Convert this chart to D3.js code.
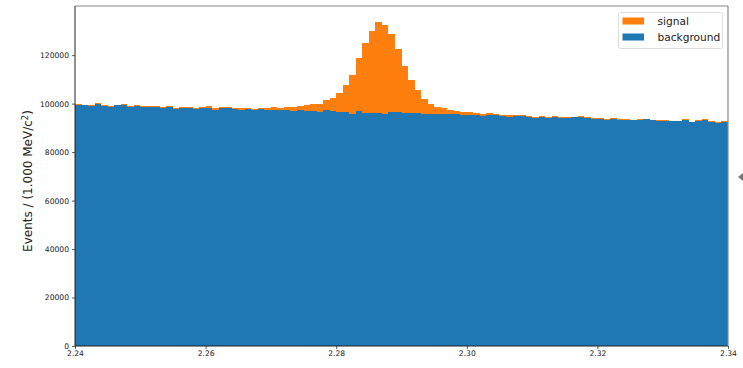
<!DOCTYPE html>
<html>
<head>
<meta charset="utf-8">
<script src="https://cdn.jsdelivr.net/npm/d3@7"></script>
<style>
  html, body { margin: 0; padding: 0; background: #fff; }
  svg { display: block; font-family: "DejaVu Sans", sans-serif; }
</style>
</head>
<body>
<svg id="chart" width="743" height="368"></svg>
<script>
// Mass range and binning (GeV/c^2), 1 MeV bins
const massMin = 2.24;
const massMax = 2.34;
const binWidth = 0.001;

// Background counts per bin
const background = [
  99600, 99300, 98900, 99900, 99200, 98700, 99300, 99400, 98600, 99000,
  98500, 98800, 98700, 98200, 98800, 97900, 98200, 98400, 97800, 98200,
  98400, 97400, 98100, 98400, 97600, 97400, 97600, 97200, 97700, 97300,
  97500, 97200, 97400, 96800, 97200, 96900, 97000, 96600, 97300, 97000,
  96700, 96500, 95900, 96800, 96200, 96000, 96200, 95900, 96600, 96500,
  96300, 96200, 96000, 95900, 95600, 95800, 95700, 95900, 95600, 95400,
  95500, 95300, 95000, 95400, 95200, 94900, 94600, 94800, 95000, 94400,
  94200, 94300, 94100, 94500, 93900, 94100, 94300, 94500, 93900, 93800,
  93600, 93400, 93700, 93400, 93300, 93100, 93300, 93500, 93200, 92800,
  93000, 92800, 92700, 93300, 92300, 92900, 93400, 92500, 92200, 92600
];

// Signal counts per bin, stacked on top of the background
const signal = [
  300, 250, 350, 200, 300, 350, 250, 300, 400, 300,
  350, 300, 400, 450, 300, 450, 400, 350, 500, 400,
  450, 600, 500, 400, 600, 650, 600, 700, 650, 800,
  1000, 1200, 1400, 1700, 2000, 2400, 2900, 3400, 4000, 5300,
  7600, 11300, 16000, 22000, 28700, 34000, 37400, 36500, 32200, 26000,
  19200, 13500, 9600, 6100, 4200, 3000, 2400, 1500, 1300, 1100,
  900, 800, 700, 650, 600, 550, 600, 500, 450, 500,
  450, 400, 450, 350, 400, 450, 350, 300, 400, 350,
  300, 350, 250, 300, 300, 250, 300, 200, 250, 300,
  250, 200, 250, 200, 250, 200, 150, 200, 250, 200
];

const xTickValues = [2.24, 2.26, 2.28, 2.30, 2.32, 2.34];
const yTickValues = [0, 20000, 40000, 60000, 80000, 100000, 120000];
const seriesNames = ["signal", "background"];
const seriesColors = { signal: "#ff7f0e", background: "#1f77b4" };

const margin = { left: 75, right: 15, top: 6, bottom: 22 };
const width = 743, height = 368;
const svg = d3.select("#chart");

const bins = background.map((b, i) => ({
  x0: massMin + i * binWidth,
  x1: massMin + (i + 1) * binWidth,
  background: b,
  signal: signal[i]
}));

const stack = d3.stack().keys(["background", "signal"]);
const layers = stack(bins);

const x = d3.scaleLinear()
  .domain([massMin, massMax])
  .range([margin.left, width - margin.right]);

const yMax = d3.max(bins, d => d.background + d.signal) * 1.05;
const y = d3.scaleLinear()
  .domain([0, yMax])
  .range([height - margin.bottom, margin.top]);

// Stacked histogram bars
const plot = svg.append("g").attr("shape-rendering", "crispEdges");
layers.forEach(layer => {
  plot.append("g")
    .attr("fill", seriesColors[layer.key])
    .selectAll("rect")
    .data(layer)
    .join("rect")
      .attr("x", d => x(d.data.x0))
      .attr("width", d => x(d.data.x1) - x(d.data.x0))
      .attr("y", d => y(d[1]))
      .attr("height", d => y(d[0]) - y(d[1]));
});

// Axes
const xAxis = d3.axisBottom(x)
  .tickValues(xTickValues)
  .tickFormat(d3.format(".2f"))
  .tickSize(3)
  .tickPadding(2);
const yAxis = d3.axisLeft(y)
  .tickValues(yTickValues)
  .tickFormat(d => String(d))
  .tickSize(3)
  .tickPadding(3);

const gx = svg.append("g")
  .attr("transform", `translate(0,${height - margin.bottom})`)
  .call(xAxis);
const gy = svg.append("g")
  .attr("transform", `translate(${margin.left},0)`)
  .call(yAxis);

[gx, gy].forEach(g => {
  g.select(".domain").remove();
  g.selectAll(".tick line").attr("stroke", "#333").attr("stroke-width", 0.8);
  g.selectAll(".tick text")
    .attr("fill", "#222")
    .style("font-size", "7.6px")
    .style("font-family", "'DejaVu Sans', sans-serif");
});

// Frame around the plotting area
const frameL = margin.left, frameR = width - margin.right;
const frameT = margin.top, frameB = height - margin.bottom;
svg.append("line").attr("x1", frameL).attr("x2", frameR).attr("y1", frameT).attr("y2", frameT)
  .attr("stroke", "#888").attr("stroke-width", 1.2);
svg.append("line").attr("x1", frameR).attr("x2", frameR).attr("y1", frameT).attr("y2", frameB)
  .attr("stroke", "#888").attr("stroke-width", 1.2);
svg.append("line").attr("x1", frameL).attr("x2", frameL).attr("y1", frameT).attr("y2", frameB)
  .attr("stroke", "#222").attr("stroke-width", 1);
svg.append("line").attr("x1", frameL).attr("x2", frameR).attr("y1", frameB).attr("y2", frameB)
  .attr("stroke", "#222").attr("stroke-width", 1);

// Y axis title
const yTitle = svg.append("text")
  .attr("transform", `translate(32,181) rotate(-90)`)
  .attr("text-anchor", "middle")
  .attr("fill", "#222")
  .style("font-size", "12px");
yTitle.append("tspan").text("Events / (1.000 MeV/c");
yTitle.append("tspan").attr("dy", -4).style("font-size", "8.4px").text("2");
yTitle.append("tspan").attr("dy", 4).text(")");

// Legend
const legend = svg.append("g").attr("transform", "translate(618.5,12.5)");
legend.append("rect")
  .attr("width", 104).attr("height", 36).attr("rx", 2)
  .attr("fill", "#fff").attr("fill-opacity", 0.8)
  .attr("stroke", "#ddd").attr("stroke-width", 1);
seriesNames.forEach((name, i) => {
  const row = legend.append("g").attr("transform", `translate(4,${5 + i * 16})`);
  row.append("rect").attr("width", 21.5).attr("height", 7).attr("fill", seriesColors[name]);
  row.append("text")
    .attr("x", 35).attr("y", 7.5)
    .attr("fill", "#222")
    .style("font-size", "10.6px")
    .text(name);
});

// Small side handle at the right edge
svg.append("path")
  .attr("d", "M738,177 L743,173 L743,181 Z")
  .attr("fill", "#777");
</script>
</body>
</html>
